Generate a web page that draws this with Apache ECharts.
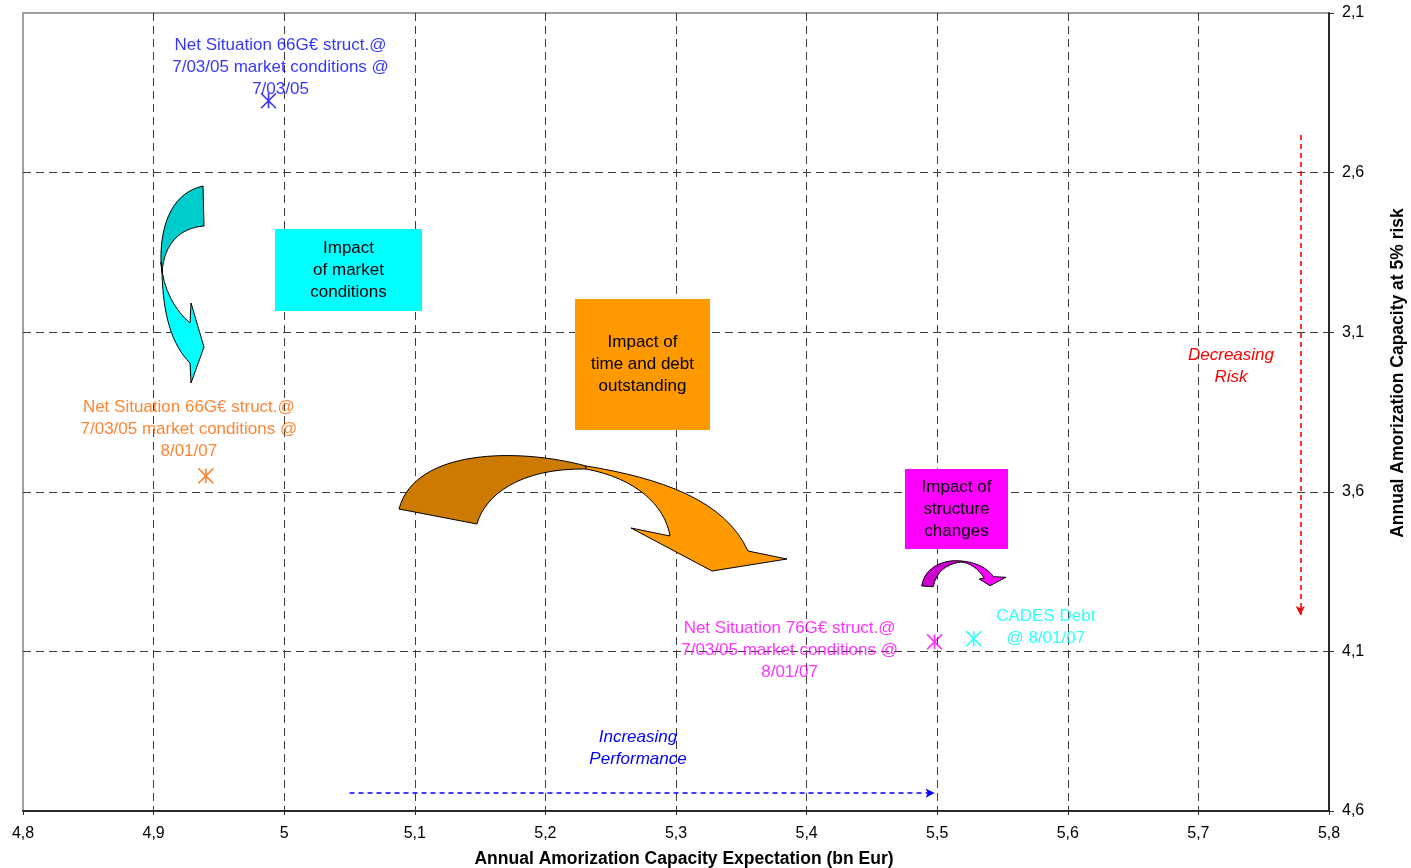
<!DOCTYPE html>
<html>
<head>
<meta charset="utf-8">
<script src="https://cdn.jsdelivr.net/npm/echarts@6/dist/echarts.min.js"></script>
<style>
  html, body { margin: 0; padding: 0; background: #ffffff; }
  #chart { width: 1411px; height: 868px; }
</style>
</head>
<body>
<div id="chart"></div>
<script>
// Scenario points: expectation (x) vs amortization capacity at 5% risk (y)
const pointNames = [
  'Net Situation 66G€ struct.@\n7/03/05 market conditions @\n7/03/05',
  'Net Situation 66G€ struct.@\n7/03/05 market conditions @\n8/01/07',
  'Net Situation 76G€ struct.@\n7/03/05 market conditions @\n8/01/07',
  'CADES Debt\n@ 8/01/07'
];
const expectation = [4.988, 4.94, 5.498, 5.528];
const capacityAtRisk = [2.375, 3.55, 4.07, 4.06];
const pointColors = ['#0000FF', '#FF6600', '#FF00FF', '#00FFFF'];
const labelOffsets = [[12, -33], [-17, -46.5], [-145, 8], [72, -11]];

// Axis ranges
const xRange = [4.8, 5.8];
const xStep = 0.1;
const yRange = [2.1, 4.6];
const yStep = 0.5;

// Direction arrows (data coordinates)
const performanceArrow = [[5.05, 4.544], [5.498, 4.544]];
const riskArrow = [[5.778, 2.482], [5.778, 3.986]];

const FONT = '"Liberation Sans", Arial, Helvetica, sans-serif';
const asterisk = 'path://M0,0L1,1M1,0L0,1M0.5,0L0.5,1';
const fmt = v => String(Math.round(v * 10) / 10).replace('.', ',');

// Curved arrow outlines, in pixels from the plot's top-left corner
const arrowShapes = {
  marketBack:    'M180,173 L181,213 C157,215 141,230 139,260 L138,249 C137,207 152,179 180,173 Z',
  marketFront:   'M139,260 C140,302 149,332 167,350 L168,370 L181,334 L168,290 L167,310 C152,297 140,277 138,249 Z',
  timeBack:      'M376,496 L454,511 C462,482 497,455 563,456 L563,453 C497,435 392,435 376,496 Z',
  timeFront:     'M563,453 C637,465 702,487 725,538 L764,546 L689,558 L608,515 L647,523 C642,492 612,465 563,456 Z',
  structureBack: 'M898.7,573 L910.3,573.7 C913,559 923,551 938,549 L938.7,548 C922,546 902,553 898.7,573 Z',
  structureFront:'M938.7,548 C952,549 965,555 970.3,563.7 L983,564.3 L967,572.7 L956.3,566 L961.3,565.3 C955,555 947,550 938,549 Z'
};
Object.keys(arrowShapes).forEach(k => {
  echarts.graphic.registerShape(k, echarts.graphic.extendPath(arrowShapes[k], {}));
});

const chart = echarts.init(document.getElementById('chart'), null, { renderer: 'canvas' });

const points = expectation.map((x, i) => ({
  name: pointNames[i],
  value: [x, capacityAtRisk[i]],
  itemStyle: { color: pointColors[i], borderColor: pointColors[i], borderWidth: 1.6 },
  label: {
    show: true,
    position: 'inside',
    offset: labelOffsets[i],
    formatter: '{b}',
    color: pointColors[i],
    fontSize: 17,
    fontFamily: FONT,
    lineHeight: 22,
    align: 'center',
    verticalAlign: 'middle'
  }
}));

const axisLineStyle = { color: '#2a2a2a', width: 2 };
const gridLineStyle = { color: '#3c3c3c', width: 1, type: [8, 5] };

chart.setOption({
  animation: false,
  backgroundColor: '#ffffff',
  grid: {
    left: 23, right: 82, top: 13, bottom: 57,
    containLabel: false,
    outerBoundsMode: 'none',
    show: true, borderColor: '#808080', borderWidth: 1.5, backgroundColor: 'transparent'
  },
  xAxis: {
    type: 'value',
    min: xRange[0], max: xRange[1], interval: xStep,
    position: 'bottom',
    name: 'Annual Amorization Capacity Expectation (bn Eur)',
    nameLocation: 'middle',
    nameGap: 39,
    nameTextStyle: { fontFamily: FONT, fontSize: 17.5, fontWeight: 'bold', color: '#000', padding: [0, 0, 0, 16] },
    axisLine: { show: true, lineStyle: axisLineStyle },
    axisTick: { show: true, inside: false, length: 4, lineStyle: { color: '#2a2a2a', width: 1 } },
    axisLabel: { formatter: fmt, fontFamily: FONT, fontSize: 16, color: '#000', margin: 15 },
    splitLine: { show: true, showMinLine: false, showMaxLine: false, lineStyle: gridLineStyle }
  },
  yAxis: {
    type: 'value',
    min: yRange[0], max: yRange[1], interval: yStep,
    inverse: true,
    position: 'right',
    name: 'Annual Amorization Capacity at 5% risk',
    nameLocation: 'middle',
    nameRotate: 90,
    nameGap: 60,
    nameTextStyle: { fontFamily: FONT, fontSize: 17.5, fontWeight: 'bold', color: '#000', padding: [0, 0, 0, 78] },
    axisLine: { show: true, lineStyle: axisLineStyle },
    axisTick: { show: true, inside: false, length: 5, lineStyle: { color: '#2a2a2a', width: 1 } },
    axisLabel: { formatter: fmt, fontFamily: FONT, fontSize: 16, color: '#000', margin: 13 },
    splitLine: { show: true, showMinLine: false, showMaxLine: false, lineStyle: gridLineStyle }
  },
  series: [{
    type: 'scatter',
    symbol: asterisk,
    symbolSize: 15,
    z: 5,
    data: points,
    markLine: {
      silent: true,
      symbol: ['none', 'arrow'],
      symbolSize: [7, 9],
      label: { show: false },
      data: [
        [{ coord: performanceArrow[0], lineStyle: { color: '#0000FF', width: 1.6, type: [5, 4] } },
         { coord: performanceArrow[1] }],
        [{ coord: riskArrow[0], lineStyle: { color: '#FF0000', width: 1.6, type: [5, 4] } },
         { coord: riskArrow[1] }]
      ]
    }
  }]
});

// Annotations laid out from the plot's top-left corner
const origin = chart.convertToPixel({ gridIndex: 0 }, [xRange[0], yRange[0]]);

function box(x, y, w, h, fill, text) {
  return [
    { type: 'rect', shape: { x, y, width: w, height: h }, style: { fill } },
    { type: 'text', x: x + w / 2, y: y + h / 2,
      style: { text, fill: '#000', fontSize: 17, fontFamily: FONT, lineHeight: 22,
               align: 'center', verticalAlign: 'middle' } }
  ];
}
function note(x, y, text, color) {
  return { type: 'text', x, y,
    style: { text, fill: color, fontSize: 17, fontFamily: FONT, fontStyle: 'italic',
             lineHeight: 22, align: 'center', verticalAlign: 'middle' } };
}
function arrow(name, fill) {
  return { type: name, style: { fill, stroke: '#000000', lineWidth: 1 } };
}

chart.setOption({
  graphic: [{
    type: 'group',
    x: origin[0], y: origin[1],
    children: [
      arrow('marketBack', '#00CCCC'),
      arrow('marketFront', '#00FFFF'),
      arrow('timeBack', '#CC7A00'),
      arrow('timeFront', '#FF9900'),
      arrow('structureBack', '#CC00CC'),
      arrow('structureFront', '#FF00FF'),
      ...box(252, 216, 147, 82, '#00FFFF', 'Impact\nof market\nconditions'),
      ...box(552, 286, 135, 131, '#FF9900', 'Impact of\ntime and debt\noutstanding'),
      ...box(882, 456, 103, 80, '#FF00FF', 'Impact of\nstructure\nchanges'),
      note(1208, 353, 'Decreasing\nRisk', '#FF0000'),
      note(615, 735, 'Increasing\nPerformance', '#0000FF')
    ]
  }]
});
</script>
</body>
</html>
